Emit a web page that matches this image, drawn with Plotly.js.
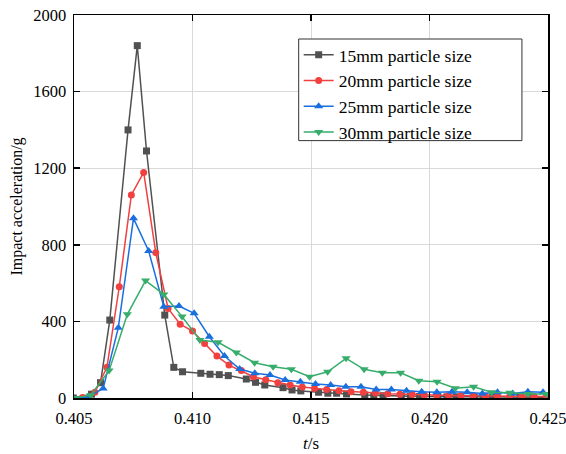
<!DOCTYPE html>
<html>
<head>
<meta charset="utf-8">
<script src="https://cdn.plot.ly/plotly-3.0.1.min.js"></script>
<style>html,body{margin:0;padding:0;background:#fff}#chart{width:566px;height:454px}</style>
</head>
<body>
<div id="chart"></div>
<script>
// Series names
var seriesNames = ["15mm particle size", "20mm particle size", "25mm particle size", "30mm particle size"];

// 15mm particle size
var t15 = [0.40497, 0.40574, 0.40612, 0.40651, 0.40728, 0.40767, 0.40806, 0.40883, 0.40921, 0.40958, 0.41035, 0.41074, 0.41113, 0.41151, 0.41227, 0.41266, 0.41305, 0.41382, 0.41420, 0.41457, 0.41532, 0.41571, 0.41608, 0.41650, 0.41727, 0.41765, 0.41804, 0.41881, 0.41919, 0.41958, 0.42035, 0.42073, 0.42112, 0.42189, 0.42227, 0.42266, 0.42343, 0.42381, 0.42420, 0.42497];
var a15 = [0, 20, 80, 407, 1400, 1840, 1290, 433, 160, 137, 129, 124, 122, 117, 99, 82, 68, 54, 42, 37, 30, 25, 25, 21, 16, 14, 12, 10, 9, 8, 7, 6, 6, 5, 5, 5, 4, 4, 4, 4];

// 20mm particle size
var t20 = [0.40536, 0.40588, 0.40639, 0.40691, 0.40742, 0.40794, 0.40845, 0.40897, 0.40948, 0.41000, 0.41051, 0.41103, 0.41154, 0.41206, 0.41257, 0.41309, 0.41360, 0.41412, 0.41463, 0.41515, 0.41566, 0.41618, 0.41669, 0.41721, 0.41772, 0.41824, 0.41875, 0.41927, 0.41978, 0.42030, 0.42081, 0.42133, 0.42184, 0.42236, 0.42287, 0.42339, 0.42390, 0.42442, 0.42493];
var a20 = [2, 30, 160, 581, 1060, 1178, 759, 468, 385, 350, 285, 219, 172, 143, 111, 95, 80, 68, 58, 50, 44, 38, 33, 30, 26, 22, 20, 18, 16, 15, 13, 12, 12, 10, 10, 9, 8, 8, 8];

// 25mm particle size
var t25 = [0.40495, 0.40559, 0.40623, 0.40687, 0.40751, 0.40815, 0.40879, 0.40943, 0.41007, 0.41071, 0.41135, 0.41199, 0.41263, 0.41327, 0.41391, 0.41455, 0.41519, 0.41583, 0.41647, 0.41711, 0.41775, 0.41839, 0.41903, 0.41967, 0.42031, 0.42095, 0.42159, 0.42223, 0.42287, 0.42351, 0.42415, 0.42479];
var a25 = [0, 5, 50, 367, 938, 768, 477, 480, 442, 320, 219, 151, 129, 120, 94, 85, 73, 68, 59, 59, 45, 45, 38, 33, 30, 33, 30, 24, 30, 24, 33, 30];

// 30mm particle size
var t30 = [0.40500, 0.40571, 0.40648, 0.40725, 0.40802, 0.40879, 0.40956, 0.41031, 0.41108, 0.41185, 0.41262, 0.41340, 0.41417, 0.41494, 0.41570, 0.41648, 0.41724, 0.41801, 0.41878, 0.41955, 0.42032, 0.42109, 0.42186, 0.42262, 0.42339, 0.42416, 0.42493];
var a30 = [0, 15, 143, 437, 613, 541, 425, 303, 291, 237, 184, 163, 150, 111, 137, 207, 150, 132, 132, 90, 85, 51, 59, 30, 28, 21, 21];

// Axis ticks
var xTicks = [0.405, 0.410, 0.415, 0.420, 0.4249999];
var xTickLabels = ["0.405", "0.410", "0.415", "0.420", "0.425"];
var yTicks = [0, 400, 800, 1200, 1600, 2000];

var colors = ["#515151", "#F14040", "#1A6FDF", "#37AD6B"];
var symbols = ["square", "circle", "triangle-up", "triangle-down"];
var sizes = [7, 7, 8, 8];
var xs = [t15, t20, t25, t30];
var ys = [a15, a20, a25, a30];

var traces = [];
for (var i = 0; i < 4; i++) {
  traces.push({
    x: xs[i], y: ys[i], name: seriesNames[i],
    type: "scatter", mode: "lines+markers",
    line: {color: colors[i], width: 1.5},
    marker: {color: colors[i], symbol: symbols[i], size: sizes[i]},
    cliponaxis: true
  });
}

var fam = "Liberation Serif, Times New Roman, serif";
var fs = 16.5;

var layout = {
  width: 566, height: 454,
  margin: {l: 74, r: 18, t: 15, b: 56},
  paper_bgcolor: "#fff", plot_bgcolor: "#fff",
  font: {family: fam, size: fs, color: "#000"},
  showlegend: true,
  legend: {
    x: 0.474, y: 0.943, xanchor: "left", yanchor: "top",
    bgcolor: "rgba(0,0,0,0)", borderwidth: 0,
    font: {family: fam, size: 17.5, color: "#000"},
    tracegroupgap: 0
  },
  shapes: [{
    type: "rect", xref: "paper", yref: "paper",
    x0: 0.474, x1: 0.945, y0: 0.672, y1: 0.9373,
    line: {color: "#333", width: 1}, fillcolor: "#fff", layer: "above"
  }],
  xaxis: {
    range: [0.405, 0.425],
    tickvals: xTicks, ticktext: xTickLabels,
    ticks: "inside", ticklen: 6, tickwidth: 1.5, tickcolor: "#000",
    showline: true, linecolor: "#000", linewidth: 1.5, mirror: "ticks",
    showgrid: true, gridcolor: "#d9d9d9", gridwidth: 1,
    zeroline: false,
    ticklabeloverflow: "allow", ticklabelstandoff: 5,
    tickfont: {family: fam, size: fs, color: "#000"},
    title: {text: "<i>t</i>/s", font: {family: fam, size: 17, color: "#000"}, standoff: 10}
  },
  yaxis: {
    range: [0, 2000],
    tickvals: yTicks,
    ticks: "inside", ticklen: 6, tickwidth: 1.5, tickcolor: "#000",
    showline: true, linecolor: "#000", linewidth: 1.5, mirror: "ticks",
    showgrid: true, gridcolor: "#d9d9d9", gridwidth: 1,
    zeroline: false,
    ticklabelstandoff: 3,
    tickfont: {family: fam, size: fs, color: "#000"},
    title: {text: "Impact acceleration/g", font: {family: fam, size: 16, color: "#000"}, standoff: 6}
  }
};

Plotly.newPlot("chart", traces, layout, {displayModeBar: false, staticPlot: true});
</script>
</body>
</html>
